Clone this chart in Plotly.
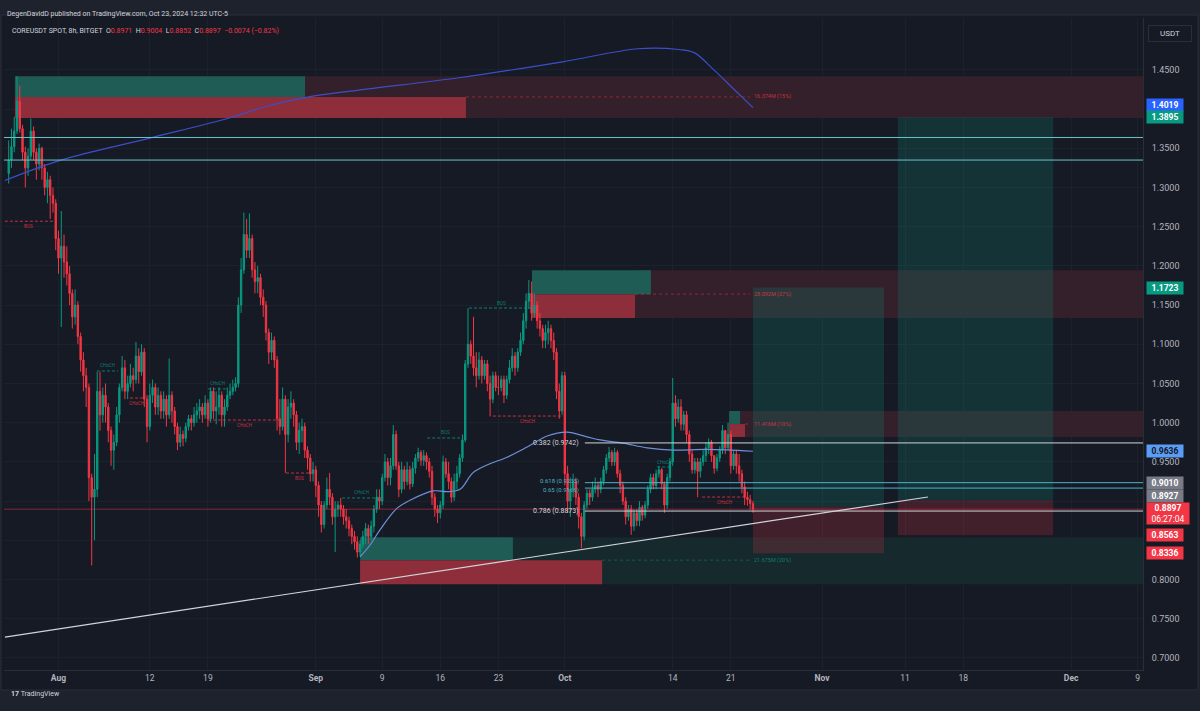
import pandas as pd
import plotly.graph_objects as go

# COREUSDT spot, BITGET, 8h candles (00/08/16 UTC), Jul 26 - Oct 23 2024
first_open = 1.318
close = [
    1.335, 1.352, 1.372,   # Jul 26
    1.410, 1.375, 1.345,   # Jul 27
    1.325, 1.340, 1.372,   # Jul 28
    1.345, 1.330, 1.350,   # Jul 29
    1.325, 1.300, 1.310,   # Jul 30
    1.290, 1.280, 1.235,   # Jul 31
    1.210, 1.225, 1.205,   # Aug 1
    1.190, 1.165, 1.135,   # Aug 2
    1.150, 1.110, 1.080,   # Aug 3
    1.060, 1.045, 0.930,   # Aug 4
    0.905, 0.915, 1.040,   # Aug 5
    1.010, 1.035, 1.020,   # Aug 6
    0.990, 0.965, 0.975,   # Aug 7
    1.010, 1.045, 1.070,   # Aug 8
    1.040, 1.050, 1.060,   # Aug 9
    1.055, 1.085, 1.065,   # Aug 10
    1.090, 1.030, 0.995,   # Aug 11
    1.035, 1.045, 1.020,   # Aug 12
    1.035, 1.015, 1.030,   # Aug 13
    1.010, 1.035, 1.015,   # Aug 14
    0.995, 0.975, 0.985,   # Aug 15
    0.980, 0.995, 1.005,   # Aug 16
    1.000, 1.010, 1.015,   # Aug 17
    1.020, 1.010, 1.025,   # Aug 18
    1.005, 1.040, 1.015,   # Aug 19
    1.020, 1.035, 1.010,   # Aug 20
    1.020, 1.035, 1.040,   # Aug 21
    1.045, 1.050, 1.150,   # Aug 22
    1.195, 1.240, 1.220,   # Aug 23
    1.235, 1.195, 1.180,   # Aug 24
    1.185, 1.160, 1.150,   # Aug 25
    1.115, 1.090, 1.105,   # Aug 26
    1.080, 1.005, 0.995,   # Aug 27
    1.030, 0.985, 1.020,   # Aug 28
    1.025, 1.010, 0.975,   # Aug 29
    0.990, 0.995, 0.965,   # Aug 30
    0.955, 0.935, 0.940,   # Aug 31
    0.920, 0.895, 0.870,   # Sep 1
    0.895, 0.915, 0.905,   # Sep 2
    0.880, 0.890, 0.895,   # Sep 3
    0.890, 0.880, 0.875,   # Sep 4
    0.865, 0.855, 0.848,   # Sep 5
    0.835, 0.845, 0.855,   # Sep 6
    0.865, 0.855, 0.868,   # Sep 7
    0.890, 0.905, 0.900,   # Sep 8
    0.930, 0.950, 0.930,   # Sep 9
    0.945, 0.985, 0.945,   # Sep 10
    0.915, 0.940, 0.925,   # Sep 11
    0.940, 0.922, 0.942,   # Sep 12
    0.955, 0.962, 0.952,   # Sep 13
    0.958, 0.950, 0.938,   # Sep 14
    0.905, 0.890, 0.885,   # Sep 15
    0.895, 0.950, 0.935,   # Sep 16
    0.925, 0.905, 0.925,   # Sep 17
    0.935, 0.955, 0.978,   # Sep 18
    1.075, 1.100, 1.085,   # Sep 19
    1.070, 1.060, 1.080,   # Sep 20
    1.060, 1.075, 1.050,   # Sep 21
    1.030, 1.060, 1.045,   # Sep 22
    1.045, 1.055, 1.035,   # Sep 23
    1.055, 1.070, 1.085,   # Sep 24
    1.070, 1.090, 1.105,   # Sep 25
    1.130, 1.155, 1.165,   # Sep 26
    1.140, 1.150, 1.130,   # Sep 27
    1.120, 1.105, 1.115,   # Sep 28
    1.120, 1.105, 1.090,   # Sep 29
    1.040, 1.015, 1.060,   # Sep 30
    0.935, 0.900, 0.915,   # Oct 1
    0.925, 0.905, 0.880,   # Oct 2
    0.855, 0.895, 0.910,   # Oct 3
    0.905, 0.915, 0.920,   # Oct 4
    0.915, 0.925, 0.940,   # Oct 5
    0.955, 0.962, 0.950,   # Oct 6
    0.962, 0.935, 0.920,   # Oct 7
    0.900, 0.880, 0.890,   # Oct 8
    0.868, 0.885, 0.875,   # Oct 9
    0.892, 0.882, 0.895,   # Oct 10
    0.915, 0.930, 0.920,   # Oct 11
    0.935, 0.940, 0.922,   # Oct 12
    0.895, 0.930, 0.950,   # Oct 13
    1.025, 1.005, 1.020,   # Oct 14
    0.998, 1.010, 0.985,   # Oct 15
    0.960, 0.940, 0.950,   # Oct 16
    0.938, 0.950, 0.958,   # Oct 17
    0.968, 0.975, 0.958,   # Oct 18
    0.942, 0.955, 0.965,   # Oct 19
    0.990, 0.968, 0.985,   # Oct 20
    0.945, 0.960, 0.945,   # Oct 21
    0.935, 0.918, 0.905,   # Oct 22
    0.902, 0.8971, 0.8897, # Oct 23
]
high = [
    1.360, 1.375, 1.390,
    1.442, 1.430, 1.380,
    1.352, 1.350, 1.388,
    1.378, 1.350, 1.356,
    1.352, 1.330, 1.320,
    1.315, 1.300, 1.285,
    1.245, 1.270, 1.240,
    1.225, 1.200, 1.170,
    1.170, 1.155, 1.115,
    1.090, 1.070, 1.050,
    0.935, 0.960, 1.065,
    1.065, 1.045, 1.050,
    1.025, 0.995, 0.985,
    1.020, 1.050, 1.085,
    1.080, 1.060, 1.075,
    1.070, 1.103, 1.095,
    1.100, 1.095, 1.035,
    1.050, 1.055, 1.050,
    1.045, 1.040, 1.040,
    1.035, 1.082, 1.040,
    1.020, 1.000, 0.995,
    0.990, 1.000, 1.010,
    1.010, 1.020, 1.025,
    1.030, 1.025, 1.035,
    1.030, 1.045, 1.045,
    1.040, 1.045, 1.040,
    1.030, 1.045, 1.050,
    1.055, 1.058, 1.160,
    1.210, 1.268, 1.260,
    1.267, 1.240, 1.205,
    1.200, 1.190, 1.170,
    1.155, 1.120, 1.115,
    1.110, 1.085, 1.030,
    1.045, 1.035, 1.030,
    1.040, 1.030, 1.015,
    1.000, 1.005, 1.000,
    0.970, 0.960, 0.950,
    0.945, 0.925, 0.900,
    0.900, 0.930, 0.936,
    0.910, 0.900, 0.900,
    0.904, 0.895, 0.890,
    0.880, 0.870, 0.862,
    0.855, 0.850, 0.862,
    0.872, 0.870, 0.875,
    0.895, 0.915, 0.915,
    0.935, 0.960, 0.955,
    0.955, 0.997, 0.990,
    0.950, 0.950, 0.945,
    0.950, 0.945, 0.950,
    0.960, 0.968, 0.965,
    0.965, 0.962, 0.955,
    0.945, 0.910, 0.895,
    0.900, 0.958, 0.955,
    0.950, 0.930, 0.935,
    0.945, 0.960, 0.985,
    1.080, 1.146, 1.105,
    1.135, 1.090, 1.090,
    1.085, 1.080, 1.080,
    1.060, 1.065, 1.065,
    1.060, 1.060, 1.060,
    1.060, 1.080, 1.095,
    1.090, 1.095, 1.115,
    1.140, 1.165, 1.182,
    1.180, 1.165, 1.155,
    1.140, 1.125, 1.125,
    1.130, 1.125, 1.115,
    1.095, 1.050, 1.065,
    1.065, 0.945, 0.930,
    0.935, 0.930, 0.910,
    0.885, 0.900, 0.915,
    0.915, 0.925, 0.930,
    0.925, 0.930, 0.945,
    0.960, 0.969, 0.965,
    0.968, 0.965, 0.940,
    0.925, 0.905, 0.895,
    0.895, 0.890, 0.890,
    0.900, 0.895, 0.900,
    0.920, 0.935, 0.935,
    0.940, 0.945, 0.942,
    0.925, 0.935, 0.955,
    1.057, 1.035, 1.030,
    1.030, 1.015, 1.015,
    0.990, 0.965, 0.955,
    0.955, 0.955, 0.965,
    0.975, 0.980, 0.978,
    0.958, 0.960, 0.970,
    0.997, 0.990, 1.000,
    0.990, 0.965, 0.965,
    0.960, 0.940, 0.925,
    0.912, 0.908, 0.9004,
]
low = [
    1.305, 1.325, 1.345,
    1.368, 1.370, 1.335,
    1.300, 1.315, 1.335,
    1.335, 1.310, 1.322,
    1.310, 1.290, 1.280,
    1.260, 1.268, 1.220,
    1.190, 1.122, 1.185,
    1.175, 1.150, 1.120,
    1.125, 1.100, 1.065,
    1.040, 1.020, 0.900,
    0.818, 0.850, 0.905,
    0.990, 1.000, 1.000,
    0.975, 0.945, 0.940,
    0.970, 1.000, 1.040,
    1.030, 1.030, 1.045,
    1.040, 1.050, 1.050,
    1.060, 1.020, 0.975,
    0.990, 1.025, 1.010,
    1.010, 1.005, 1.005,
    0.995, 1.005, 1.000,
    0.985, 0.965, 0.969,
    0.970, 0.975, 0.990,
    0.990, 0.995, 1.000,
    1.005, 1.000, 1.005,
    0.995, 1.000, 1.005,
    0.998, 1.010, 0.995,
    0.995, 1.015, 1.030,
    1.035, 1.040, 1.045,
    1.140, 1.190, 1.210,
    1.210, 1.185, 1.165,
    1.165, 1.150, 1.135,
    1.105, 1.075, 1.080,
    1.070, 0.990, 0.985,
    0.990, 0.936, 0.975,
    1.005, 0.995, 0.965,
    0.960, 0.975, 0.955,
    0.940, 0.925, 0.925,
    0.905, 0.880, 0.860,
    0.865, 0.890, 0.895,
    0.870, 0.835, 0.880,
    0.880, 0.870, 0.865,
    0.855, 0.845, 0.838,
    0.828, 0.830, 0.840,
    0.845, 0.845, 0.850,
    0.860, 0.885, 0.890,
    0.895, 0.925, 0.920,
    0.920, 0.940, 0.940,
    0.905, 0.910, 0.915,
    0.920, 0.915, 0.918,
    0.935, 0.950, 0.945,
    0.945, 0.940, 0.930,
    0.895, 0.880, 0.872,
    0.878, 0.890, 0.930,
    0.915, 0.898, 0.900,
    0.915, 0.930, 0.950,
    0.975, 1.070, 1.075,
    1.060, 1.045, 1.055,
    1.050, 1.055, 1.040,
    1.008, 1.025, 1.040,
    1.035, 1.040, 1.025,
    1.030, 1.050, 1.065,
    1.060, 1.065, 1.085,
    1.100, 1.120, 1.145,
    1.130, 1.135, 1.120,
    1.110, 1.095, 1.095,
    1.100, 1.095, 1.080,
    1.030, 1.005, 1.010,
    0.920, 0.885, 0.880,
    0.905, 0.895, 0.865,
    0.840, 0.850, 0.890,
    0.895, 0.900, 0.910,
    0.905, 0.910, 0.920,
    0.935, 0.950, 0.945,
    0.945, 0.930, 0.910,
    0.895, 0.870, 0.875,
    0.857, 0.862, 0.868,
    0.868, 0.875, 0.878,
    0.890, 0.910, 0.915,
    0.915, 0.930, 0.915,
    0.885, 0.890, 0.925,
    0.945, 0.995, 1.000,
    0.990, 0.990, 0.975,
    0.950, 0.935, 0.935,
    0.905, 0.930, 0.945,
    0.950, 0.960, 0.950,
    0.935, 0.938, 0.950,
    0.960, 0.960, 0.965,
    0.935, 0.940, 0.935,
    0.925, 0.910, 0.895,
    0.894, 0.889, 0.8852,
]

# moving average drawn under price (light blue) and the slow curve at the top (dark blue)
ema_dates = ["2024-09-06 08:00", "2024-09-07 13:00", "2024-09-08 17:00", "2024-09-10 19:00",
             "2024-09-12 08:00", "2024-09-15 03:00", "2024-09-16 19:00", "2024-09-18 09:00",
             "2024-09-19 22:00", "2024-09-21 15:00", "2024-09-24 01:00", "2024-09-26 11:00",
             "2024-09-28 21:00", "2024-10-01 06:00", "2024-10-03 16:00", "2024-10-05 06:00",
             "2024-10-08 00:00", "2024-10-10 22:00", "2024-10-14 01:00", "2024-10-18 03:00",
             "2024-10-23 16:00"]
ema_vals = [0.829, 0.844, 0.863, 0.891, 0.901, 0.913, 0.912, 0.915, 0.936, 0.946, 0.956,
            0.969, 0.983, 0.988, 0.982, 0.978, 0.974, 0.968, 0.965, 0.966, 0.9636]
slow_dates = ["2024-07-25 13:00", "2024-08-01 07:00", "2024-08-12 09:00", "2024-08-21 16:00",
              "2024-08-25 21:00", "2024-08-30 20:00", "2024-09-05 23:00", "2024-09-18 06:00",
              "2024-09-30 13:00", "2024-10-09 20:00", "2024-10-14 18:00", "2024-10-16 14:00",
              "2024-10-18 23:00", "2024-10-21 12:00", "2024-10-23 16:00"]
slow_vals = [1.309, 1.335, 1.364, 1.389, 1.403, 1.415, 1.424, 1.440, 1.460, 1.477, 1.476,
             1.472, 1.450, 1.424, 1.4019]

# order blocks: upper (teal) part, lower (red) part, extension to the right
zone_start = ["2024-07-26 18:00", "2024-09-27 01:00", "2024-10-20 19:00", "2024-09-06 08:00"]
zone_top_end = ["2024-08-30 17:00", "2024-10-11 09:00", "2024-10-22 03:00", "2024-09-24 18:00"]
zone_bot_end = ["2024-09-19 02:00", "2024-10-09 11:00", "2024-10-22 17:00", "2024-10-05 12:00"]
zone_high = [1.442, 1.1945, 1.0149, 0.854]
zone_mid = [1.4155, 1.164, 0.9983, 0.8247]
zone_low = [1.3887, 1.1336, 0.9818, 0.7941]
zone_vol = ["16.374M (15%)", "28.092M (27%)", "11.416M (10%)", "21.675M (20%)"]
zone_bull = [False, False, False, True]

# long position tools
pos_start = ["2024-10-23 16:00", "2024-11-10 03:00"]
pos_end = ["2024-11-08 11:00", "2024-11-28 20:00"]
pos_entry = [0.8927, 0.9010]
pos_target = [1.1723, 1.3895]
pos_stop = [0.8336, 0.8563]

# fib retracement levels
fib_level = ["0.382", "0.618", "0.65", "0.786"]
fib_price = [0.9742, 0.9235, 0.9166, 0.8873]
fib_start = "2024-10-03 10:00"

# market structure breaks
ms_text = ["BOS", "CHoCH", "CHoCH", "CHoCH", "CHoCH", "BOS", "CHoCH", "BOS", "BOS", "CHoCH", "CHoCH", "CHoCH"]
ms_bull = [False, True, False, True, False, False, True, True, True, False, True, False]
ms_price = [1.257, 1.066, 1.0315, 1.043, 1.0034, 0.9358, 0.904, 0.9805, 1.1463, 1.0085, 0.9435, 0.9052]
ms_start = ["2024-07-25 13:00", "2024-08-05 15:00", "2024-08-09 15:00", "2024-08-19 00:00",
            "2024-08-19 00:00", "2024-08-28 10:00", "2024-09-04 04:00", "2024-09-14 10:00",
            "2024-09-19 11:00", "2024-09-22 08:00", "2024-10-12 03:00", "2024-10-17 13:00"]
ms_end = ["2024-07-31 08:00", "2024-08-08 04:00", "2024-08-11 04:00", "2024-08-21 07:00",
          "2024-08-27 17:00", "2024-08-31 13:00", "2024-09-08 23:00", "2024-09-18 18:00",
          "2024-09-27 04:00", "2024-09-30 19:00", "2024-10-13 22:00", "2024-10-22 23:00"]

# horizontal levels and trend line
hlines = [1.3638, 1.3350]
trend_dates = ["2024-07-25 13:00", "2024-11-13 18:00"]
trend_vals = [0.7266, 0.9052]
last_price = 0.8897
countdown = "06:27:04"

date_ticks = ["2024-08-01", "2024-08-12", "2024-08-19", "2024-09-01", "2024-09-09", "2024-09-16",
              "2024-09-23", "2024-10-01", "2024-10-14", "2024-10-21", "2024-11-01", "2024-11-11",
              "2024-11-18", "2024-12-01", "2024-12-09"]
date_labels = ["<b>Aug</b>", "12", "19", "<b>Sep</b>", "9", "16", "23", "<b>Oct</b>", "14", "21",
               "<b>Nov</b>", "11", "18", "<b>Dec</b>", "9"]
price_ticks = [0.70, 0.75, 0.80, 0.85, 0.90, 0.95, 1.00, 1.05, 1.10, 1.15, 1.20, 1.25, 1.30,
               1.35, 1.40, 1.45]
hidden_ticks = [0.85, 0.90, 1.40]   # covered by price badges on the scale

UP, DOWN = "#089981", "#f23645"
BG, OUTER, BORDER = "#161a25", "#1e222d", "#2a2e39"
TXT = "#b2b5be"
X_LEFT, X_RIGHT = "2024-07-25 10:25", "2024-12-09 15:50"

times = pd.date_range("2024-07-26 00:00", periods=len(close), freq="8h")
opens = [first_open] + close[:-1]

fig = go.Figure()

# frame around chart
fig.add_shape(type="rect", xref="paper", yref="paper", x0=-0.0026, x1=1.0483, y0=-0.0307, y1=1.0046,
              fillcolor=BG, line=dict(color=BORDER, width=1), layer="below")


def box(x0, x1, y0, y1, color):
    fig.add_shape(type="rect", xref="x", yref="y", x0=x0, x1=x1, y0=y0, y1=y1,
                  fillcolor=color, line_width=0, layer="between")


for i in range(len(zone_start)):
    ext_start = min(zone_top_end[i], zone_bot_end[i])
    box(ext_start, X_RIGHT, zone_low[i], zone_high[i], "#16292d" if zone_bull[i] else "#33202a")
    box(zone_start[i], zone_top_end[i], zone_mid[i], zone_high[i], "#1e5c55")
    box(zone_start[i], zone_bot_end[i], zone_low[i], zone_mid[i], "#8e2e3b")
    col = UP if zone_bull[i] else DOWN
    fig.add_shape(type="line", xref="x", yref="y", x0=zone_bot_end[i], x1="2024-10-23 08:00",
                  y0=zone_mid[i], y1=zone_mid[i], line=dict(color=col, width=0.8, dash="3px,3px"),
                  opacity=0.6, layer="between")
    fig.add_annotation(x="2024-10-23 13:00", y=zone_mid[i], text=zone_vol[i], showarrow=False,
                       xanchor="left", font=dict(size=5.5, color=col), opacity=0.75)

for i in range(len(pos_start)):
    box(pos_start[i], pos_end[i], pos_entry[i], pos_target[i], "rgba(8,153,129,0.20)")
    box(pos_start[i], pos_end[i], pos_stop[i], pos_entry[i], "rgba(242,54,69,0.20)")

fig.add_trace(go.Candlestick(
    x=times, open=opens, high=high, low=low, close=close,
    increasing=dict(line=dict(color=UP, width=1), fillcolor=UP),
    decreasing=dict(line=dict(color=DOWN, width=1), fillcolor=DOWN),
    whiskerwidth=0, showlegend=False, hoverinfo="skip"))

fig.add_trace(go.Scatter(x=ema_dates, y=ema_vals, mode="lines", hoverinfo="skip",
                         line=dict(color="#6f8fd6", width=1.2, shape="spline"), showlegend=False))
fig.add_trace(go.Scatter(x=slow_dates, y=slow_vals, mode="lines", hoverinfo="skip",
                         line=dict(color="#3b4fc8", width=1.2, shape="spline"), showlegend=False))


def hline(x0, x1, y, color, width=1.0, dash="solid"):
    fig.add_shape(type="line", xref="x", yref="y", x0=x0, x1=x1, y0=y, y1=y,
                  line=dict(color=color, width=width, dash=dash), layer="above")


for p in hlines:
    hline(X_LEFT, X_RIGHT, p, "#6cc3c8")
hline(X_LEFT, X_RIGHT, last_price, "rgba(242,54,69,0.6)", width=0.8)

fib_nudge = {"0.618": 2, "0.65": -2}
for lvl, p in zip(fib_level, fib_price):
    col = "#d1d4dc" if lvl in ("0.382", "0.786") else "#4fb3c6"
    hline(fib_start, X_RIGHT, p, col)
    fig.add_annotation(x=fib_start, y=p, text=f"{lvl} ({p:.4f})", showarrow=False, xanchor="right",
                       xshift=-4, yshift=fib_nudge.get(lvl, 0),
                       font=dict(size=7 if lvl not in fib_nudge else 6, color=col))

for i in range(len(ms_text)):
    col = UP if ms_bull[i] else DOWN
    hline(ms_start[i], ms_end[i], ms_price[i], col, width=0.8, dash="3px,2px")
    mid = pd.Timestamp(ms_start[i]) + (pd.Timestamp(ms_end[i]) - pd.Timestamp(ms_start[i])) / 2
    fig.add_annotation(x=mid, y=ms_price[i], text=ms_text[i], showarrow=False,
                       yshift=5 if ms_bull[i] else -5, font=dict(size=4.5, color=col), opacity=0.8)

fig.add_shape(type="line", xref="x", yref="y", x0=trend_dates[0], x1=trend_dates[1],
              y0=trend_vals[0], y1=trend_vals[1], line=dict(color="#d1d4dc", width=1.2), layer="above")

# price scale badges (price, colours, vertical nudge the scale applies to avoid overlaps)
badges = [(1.4019, "#2962ff", "white", 3), (1.3895, UP, "white", 0), (1.1723, UP, "white", 0),
          (0.9636, "#5b9cf6", "#131722", 0), (0.9010, "#787b86", "white", 17),
          (0.8927, "#787b86", "white", 10.5), (0.8563, DOWN, "white", 0), (0.8336, DOWN, "white", 0)]
for p, bg, fg, shift in badges:
    fig.add_annotation(xref="paper", x=1.0026, y=p, yshift=shift, text=f"<b>{p:.4f}</b>",
                       showarrow=False, xanchor="left", width=36, height=12, bgcolor=bg,
                       borderpad=0, font=dict(size=8.5, color=fg))
fig.add_annotation(xref="paper", x=1.0026, y=last_price, yshift=-4.5,
                   text=f"<b>{last_price:.4f}</b><br>{countdown}", showarrow=False, xanchor="left",
                   width=42, height=21, bgcolor=DOWN, borderpad=0,
                   font=dict(size=8.5, color="white"))

fig.add_annotation(xref="paper", yref="paper", x=1.0044, y=0.9885, text="USDT", showarrow=False,
                   xanchor="left", width=40, height=13, bordercolor=BORDER, borderwidth=1,
                   bgcolor=BG, font=dict(size=8, color="#d1d4dc"))
fig.add_annotation(xref="paper", yref="paper", x=0.001, y=1.0153, xanchor="left", showarrow=False,
                   text="DegenDavidD published on TradingView.com, Oct 23, 2024 12:32 UTC-5",
                   font=dict(size=7, color="#d1d4dc"))
fig.add_annotation(xref="paper", yref="paper", x=0.005, y=0.9898, xanchor="left", showarrow=False,
                   text=("COREUSDT SPOT, 8h, BITGET  O<span style='color:#f23645'>0.8971</span>"
                         "  H<span style='color:#f23645'>0.9004</span>"
                         "  L<span style='color:#f23645'>0.8852</span>"
                         "  C<span style='color:#f23645'>0.8897</span>"
                         "  <span style='color:#f23645'>\u22120.0074 (\u22120.82%)</span>"),
                   font=dict(size=7, color="#d1d4dc"))
fig.add_annotation(xref="paper", yref="paper", x=0.004, y=-0.046, xanchor="left", showarrow=False,
                   text="<b>17</b> TradingView", font=dict(size=7, color="#d1d4dc"))

fig.update_layout(
    width=1200, height=711,
    margin=dict(l=4, r=57, t=18, b=41),
    paper_bgcolor=OUTER, plot_bgcolor=BG,
    font=dict(family="Roboto, Liberation Sans, sans-serif", color=TXT),
    showlegend=False,
    xaxis=dict(type="date", range=[X_LEFT, X_RIGHT], rangeslider=dict(visible=False),
               tickvals=date_ticks, ticktext=date_labels, tickfont=dict(size=8.5, color=TXT),
               showgrid=True, gridcolor="#1d212c", zeroline=False, showline=True,
               linecolor=BORDER, ticks=""),
    yaxis=dict(side="right", range=[0.68457, 1.5162], tickvals=price_ticks,
               ticktext=["" if v in hidden_ticks else f"{v:.4f}" for v in price_ticks],
               tickfont=dict(size=9, color=TXT), ticklabelstandoff=6,
               showgrid=True, gridcolor="#1d212c", zeroline=False, showline=True,
               linecolor=BORDER, ticks=""),
)

fig.write_html("out.html", config={"displayModeBar": False},
               post_script="document.body.style.margin='0';")
